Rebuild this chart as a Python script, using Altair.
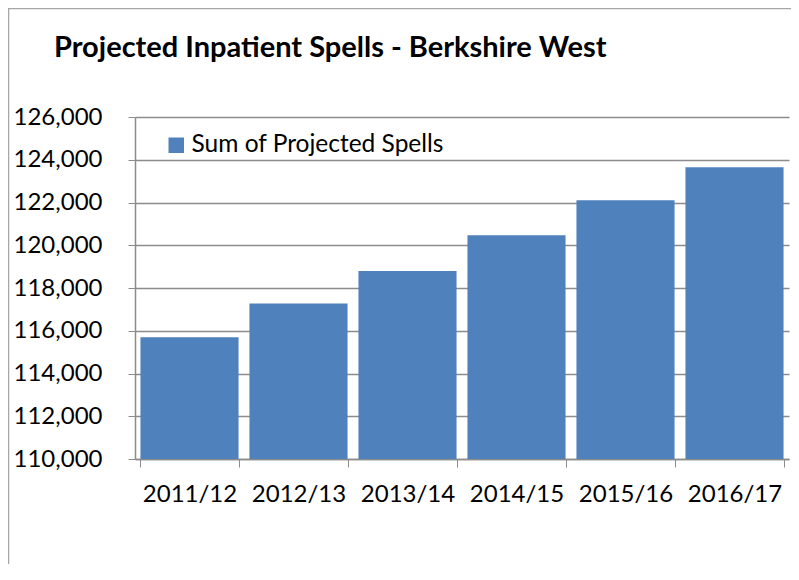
import altair as alt
import pandas as pd

years = ["2011/12", "2012/13", "2013/14", "2014/15", "2015/16", "2016/17"]
spells = [115700, 117270, 118800, 120470, 122100, 123650]
series = "Sum of Projected Spells"
y_ticks = [110000, 112000, 114000, 116000, 118000, 120000, 122000, 124000, 126000]

df = pd.DataFrame({"year": years, "spells": spells, "series": [series] * len(years)})

FONT = "Lato"
GRID = "#8c8c8c"

bars = alt.Chart(df).mark_bar(color="#4F81BD", clip=True).encode(
    x=alt.X(
        "year:N",
        sort=years,
        title=None,
        scale=alt.Scale(paddingInner=0.1, paddingOuter=0.05),
        axis=alt.Axis(
            labelAngle=0,
            labelFont=FONT,
            labelFontSize=24,
            labelColor="black",
            labelPadding=15,
            tickBand="extent",
            tickSize=8,
            tickColor=GRID,
            domainColor=GRID,
            domainWidth=1.5,
            grid=False,
        ),
    ),
    y=alt.Y(
        "spells:Q",
        title=None,
        scale=alt.Scale(domain=[110000, 126000], zero=False, nice=False),
        axis=alt.Axis(
            values=y_ticks,
            format=",.0f",
            labelFont=FONT,
            labelFontSize=24,
            labelColor="black",
            labelPadding=26,
            tickSize=7,
            tickColor=GRID,
            domainColor=GRID,
            domainWidth=1.5,
            gridColor=GRID,
            gridWidth=1.5,
        ),
    ),
    color=alt.Color(
        "series:N",
        scale=alt.Scale(domain=[series], range=["#4F81BD"]),
        legend=alt.Legend(
            title=None,
            orient="none",
            legendX=29,
            legendY=16,
            symbolType="square",
            symbolSize=240,
            symbolStrokeWidth=0,
            symbolOpacity=1,
            labelFont=FONT,
            labelFontSize=24.5,
            labelColor="black",
            labelOffset=3,
            labelLimit=400,
            padding=0,
        ),
    ),
)

frame = alt.Chart(pd.DataFrame({"a": [0]})).mark_rect(
    fill=None, stroke="#a6a6a6", strokeWidth=1.5, clip=False
).encode(
    x=alt.value(-126.5),
    y=alt.value(-108.5),
    x2=alt.value(900),
    y2=alt.value(900),
)

chart = alt.layer(frame, bars).properties(
    width=654,
    height=342,
    padding={"left": 127, "top": 109, "right": 2, "bottom": 105},
    autosize=alt.AutoSizeParams(type="none"),
    title=alt.TitleParams(
        "Projected Inpatient Spells - Berkshire West",
        font=FONT,
        fontSize=29,
        fontWeight="bold",
        color="black",
        anchor="start",
        frame="group",
        dx=-81,
        offset=0,
        dy=55,
    ),
).configure_view(stroke=None)

chart.save("out.html", embed_options={"renderer": "svg", "actions": False})
